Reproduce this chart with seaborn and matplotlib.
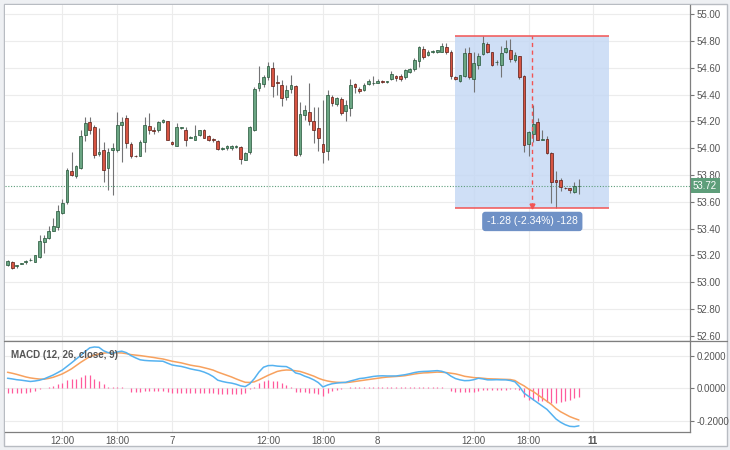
import numpy as np
import pandas as pd
import matplotlib
matplotlib.use("Agg")
import matplotlib.pyplot as plt
import seaborn as sns
from matplotlib.patches import Rectangle
from matplotlib.lines import Line2D

# 30 minute candles
opens = [53.13, 53.15, 53.12, 53.14, 53.15, 53.165, 53.155, 53.19, 53.30, 53.33,
         53.385, 53.41, 53.52, 53.60, 53.83, 53.79, 53.85, 54.10, 54.195, 54.155,
         53.96, 53.985, 53.85, 53.99, 53.99, 54.17, 54.225, 54.03, 53.945, 53.945,
         54.05, 54.165, 54.14, 54.14, 54.195, 54.20, 54.05, 54.02, 54.15, 54.14,
         54.08, 54.065, 54.10, 54.14, 54.095, 54.07, 54.055, 53.995, 54.005, 54.005,
         54.01, 54.01, 53.915, 53.97, 54.14, 54.45, 54.48, 54.53, 54.60, 54.495,
         54.475, 54.38, 54.44, 54.465, 53.96, 54.25, 54.27, 54.20, 54.15, 54.03,
         53.98, 54.385, 54.33, 54.365, 54.28, 54.30, 54.48, 54.445, 54.435, 54.48,
         54.485, 54.49, 54.505, 54.495, 54.52, 54.54, 54.54, 54.53, 54.57, 54.595,
         54.65, 54.74, 54.695, 54.715, 54.715, 54.72, 54.755, 54.72, 54.53, 54.50,
         54.54, 54.71, 54.515, 54.62, 54.705, 54.78, 54.715, 54.64, 54.62, 54.715,
         54.735, 54.655, 54.685, 54.54, 54.03, 54.11, 54.195, 54.065, 54.07, 53.965,
         53.765, 53.765, 53.705, 53.70, 53.675, 53.715]
highs = [53.17, 53.16, 53.13, 53.145, 53.165, 53.18, 53.205, 53.35, 53.35, 53.42,
         53.48, 53.58, 53.62, 53.85, 53.975, 53.875, 54.135, 54.235, 54.235, 54.17,
         54.15, 54.05, 54.00, 54.04, 54.27, 54.235, 54.25, 54.045, 53.95, 54.065,
         54.23, 54.265, 54.16, 54.20, 54.215, 54.205, 54.055, 54.185, 54.16, 54.155,
         54.09, 54.175, 54.14, 54.145, 54.10, 54.08, 54.06, 54.01, 54.025, 54.025,
         54.025, 54.02, 53.97, 54.165, 54.455, 54.615, 54.55, 54.645, 54.64, 54.55,
         54.51, 54.47, 54.55, 54.475, 54.345, 54.32, 54.485, 54.31, 54.305, 54.36,
         54.435, 54.40, 54.385, 54.38, 54.36, 54.515, 54.49, 54.455, 54.49, 54.52,
         54.54, 54.515, 54.51, 54.50, 54.58, 54.55, 54.555, 54.595, 54.60, 54.675,
         54.765, 54.76, 54.73, 54.73, 54.735, 54.785, 54.785, 54.735, 54.54, 54.55,
         54.745, 54.755, 54.72, 54.71, 54.835, 54.795, 54.72, 54.66, 54.76, 54.81,
         54.815, 54.715, 54.69, 54.545, 54.13, 54.32, 54.225, 54.135, 54.09, 53.97,
         53.83, 53.78, 53.71, 53.705, 53.75, 53.77]
lows = [53.12, 53.10, 53.11, 53.135, 53.14, 53.16, 53.15, 53.18, 53.22, 53.32,
        53.38, 53.39, 53.51, 53.585, 53.795, 53.78, 53.845, 54.055, 54.11, 53.925,
        53.94, 53.75, 53.685, 53.655, 53.975, 53.895, 54.00, 53.925, 53.935, 53.94,
        53.975, 54.11, 54.11, 54.12, 54.19, 54.06, 54.025, 54.015, 54.145, 54.015,
        54.075, 54.06, 54.09, 54.075, 54.055, 54.05, 53.985, 53.985, 53.99, 53.99,
        54.00, 53.88, 53.91, 53.96, 54.13, 54.43, 54.46, 54.51, 54.38, 54.40,
        54.315, 54.36, 54.41, 53.94, 53.94, 54.21, 54.175, 54.04, 53.98, 53.89,
        53.91, 54.315, 54.315, 54.25, 54.20, 54.24, 54.41, 54.41, 54.425, 54.475,
        54.475, 54.485, 54.49, 54.49, 54.51, 54.50, 54.50, 54.52, 54.565, 54.58,
        54.61, 54.665, 54.685, 54.71, 54.71, 54.715, 54.705, 54.515, 54.51, 54.495,
        54.535, 54.52, 54.42, 54.59, 54.695, 54.71, 54.615, 54.62, 54.535, 54.71,
        54.645, 54.645, 54.52, 53.975, 53.94, 54.05, 54.06, 54.06, 53.96, 53.595,
        53.555, 53.68, 53.695, 53.665, 53.67, 53.66]
closes = [53.16, 53.11, 53.13, 53.14, 53.16, 53.17, 53.20, 53.31, 53.33, 53.38,
          53.42, 53.53, 53.59, 53.84, 53.80, 53.865, 54.095, 54.185, 54.135, 53.95,
          53.975, 53.84, 53.975, 54.005, 54.175, 54.195, 54.04, 53.94, 53.94, 54.045,
          54.175, 54.135, 54.13, 54.195, 54.21, 54.065, 54.03, 54.155, 54.155, 54.065,
          54.085, 54.09, 54.135, 54.08, 54.06, 54.06, 53.995, 54.00, 54.02, 54.02,
          54.02, 53.92, 53.965, 54.155, 54.445, 54.49, 54.53, 54.615, 54.465, 54.485,
          54.375, 54.435, 54.475, 53.95, 54.255, 54.285, 54.205, 54.135, 54.08, 53.97,
          54.40, 54.34, 54.375, 54.265, 54.32, 54.47, 54.455, 54.43, 54.47, 54.50,
          54.485, 54.505, 54.495, 54.495, 54.555, 54.525, 54.52, 54.585, 54.595, 54.66,
          54.755, 54.68, 54.72, 54.725, 54.735, 54.765, 54.715, 54.54, 54.515, 54.545,
          54.71, 54.53, 54.635, 54.685, 54.785, 54.72, 54.62, 54.64, 54.71, 54.745,
          54.665, 54.695, 54.53, 54.025, 54.125, 54.18, 54.065, 54.07, 53.965, 53.75,
          53.75, 53.71, 53.70, 53.69, 53.715, 53.72]

# MACD (12, 26, close, 9) as drawn
macd_line = [0.062, 0.058, 0.053, 0.05, 0.046, 0.042, 0.045, 0.05, 0.058, 0.07,
             0.082, 0.097, 0.113, 0.135, 0.157, 0.18, 0.202, 0.228, 0.25, 0.255,
             0.253, 0.232, 0.22, 0.216, 0.225, 0.229, 0.22, 0.202, 0.188, 0.176,
             0.172, 0.17, 0.169, 0.168, 0.167, 0.155, 0.144, 0.139, 0.135, 0.128,
             0.12, 0.114, 0.109, 0.1, 0.088, 0.072, 0.05, 0.042, 0.036, 0.032,
             0.025, 0.015, 0.01, 0.028, 0.06, 0.1, 0.13, 0.14, 0.141, 0.137,
             0.135, 0.134, 0.12, 0.095, 0.088, 0.075, 0.065, 0.052, 0.035, 0.008,
             0.02, 0.028, 0.032, 0.035, 0.037, 0.045, 0.052, 0.06, 0.063, 0.068,
             0.073, 0.076, 0.077, 0.076, 0.076, 0.076, 0.08, 0.084, 0.09, 0.097,
             0.102, 0.104, 0.105, 0.107, 0.109, 0.105, 0.095, 0.075, 0.06, 0.052,
             0.047, 0.048, 0.053, 0.062, 0.058, 0.052, 0.052, 0.053, 0.052, 0.052,
             0.048, 0.04, 0.01, -0.03, -0.05, -0.07, -0.09, -0.11, -0.13, -0.16,
             -0.19, -0.21, -0.225, -0.235, -0.237, -0.232]
signal_line = [0.099, 0.093, 0.086, 0.078, 0.07, 0.064, 0.06, 0.057, 0.056, 0.061,
               0.068, 0.078, 0.089, 0.104, 0.12, 0.14, 0.16, 0.178, 0.196, 0.205,
               0.212, 0.217, 0.22, 0.22, 0.219, 0.218, 0.214, 0.208, 0.205, 0.202,
               0.198, 0.194, 0.19, 0.185, 0.181, 0.174, 0.167, 0.162, 0.157, 0.15,
               0.143, 0.138, 0.134, 0.127, 0.12, 0.112, 0.1, 0.09, 0.08, 0.07,
               0.058, 0.047, 0.037, 0.036, 0.04, 0.052, 0.066, 0.08, 0.092, 0.104,
               0.11, 0.113, 0.112, 0.108, 0.104, 0.095, 0.085, 0.075, 0.062, 0.052,
               0.045, 0.04, 0.037, 0.036, 0.035, 0.038, 0.042, 0.046, 0.05, 0.054,
               0.058, 0.062, 0.066, 0.069, 0.071, 0.073, 0.075, 0.078, 0.083, 0.088,
               0.092, 0.095, 0.096, 0.098, 0.1, 0.099, 0.097, 0.093, 0.089, 0.082,
               0.074, 0.07, 0.066, 0.064, 0.062, 0.059, 0.058, 0.057, 0.056, 0.055,
               0.054, 0.048, 0.03, 0.015, -0.005, -0.02, -0.04, -0.06, -0.08, -0.1,
               -0.125, -0.145, -0.16, -0.175, -0.186, -0.196]
macd_hist = [-0.031, -0.031, -0.031, -0.027, -0.027, -0.023, -0.016, -0.002, 0.0, 0.006,
             0.014, 0.025, 0.035, 0.052, 0.056, 0.06, 0.072, 0.082, 0.08, 0.06,
             0.047, 0.025, 0.01, 0.01, 0.008, 0.008, 0.0, -0.023, -0.023, -0.023,
             -0.019, -0.016, -0.016, -0.014, -0.016, -0.023, -0.027, -0.027, -0.027, -0.029,
             -0.029, -0.031, -0.031, -0.031, -0.031, -0.031, -0.033, -0.033, -0.033, -0.033,
             -0.033, -0.033, -0.031, -0.006, 0.01, 0.031, 0.047, 0.052, 0.047, 0.047,
             0.031, 0.021, 0.01, -0.023, -0.023, -0.023, -0.027, -0.031, -0.037, -0.047,
             -0.027, -0.016, -0.01, -0.006, 0.0, 0.006, 0.006, 0.006, 0.006, 0.005,
             0.005, 0.006, 0.005, 0.005, 0.006, 0.006, 0.005, 0.006, 0.007, 0.006,
             0.006, 0.007, 0.006, 0.006, 0.005, 0.005, 0.0, -0.015, -0.02, -0.025,
             -0.025, -0.025, -0.02, -0.015, -0.012, -0.008, -0.012, -0.008, -0.008, -0.008,
             -0.006, -0.006, -0.008, -0.052, -0.07, -0.074, -0.078, -0.08, -0.084, -0.088,
             -0.088, -0.086, -0.08, -0.074, -0.062, -0.054]

time_tick_pos = [12, 24, 36, 57, 69, 81, 102, 114, 128]
time_tick_labels = ["12:00", "18:00", "7", "12:00", "18:00", "8", "12:00", "18:00", "11"]
price_ticks = [52.6, 52.8, 53.0, 53.2, 53.4, 53.6, 53.8, 54.0, 54.2, 54.4, 54.6, 54.8, 55.0]
macd_ticks = [-0.2, 0.0, 0.2]
last_price = 53.72

# price range measuring tool
measure_from, measure_to = 98, 131.6
measure_low, measure_high = 53.555, 54.84
measure_mid = 114.8
measure_label = "-1.28 (-2.34%) -128"

UP, UP_EDGE = "#6ba583", "#225437"
DOWN, DOWN_EDGE = "#d75442", "#5b1a13"
WICK = "#737375"
TEXT = "#555555"
GRID = "#ececec"

sns.set_theme(style="white")
plt.rcParams["font.family"] = ["Liberation Sans", "DejaVu Sans"]

W, H = 730, 450
fig = plt.figure(figsize=(W / 100, H / 100), dpi=100, facecolor="#eef0f3")


def px_box(left, top, right, bottom):
    return [left / W, 1 - bottom / H, (right - left) / W, (bottom - top) / H]


fig.patches.append(Rectangle((4 / W, 1 - 446 / H), 723 / W, 442 / H,
                             transform=fig.transFigure, facecolor="white",
                             edgecolor="#b8bcc2", lw=1, zorder=-5))

ax1 = fig.add_axes(px_box(5, 5, 690, 341))
ax2 = fig.add_axes(px_box(5, 341, 690, 432), sharex=ax1)

df = pd.DataFrame({"o": opens, "h": highs, "l": lows, "c": closes})
df["x"] = np.arange(len(df))
df["bottom"] = df[["o", "c"]].min(axis=1)
df["height"] = (df["c"] - df["o"]).abs().clip(lower=0.004)
up = df["c"] >= df["o"]

# measuring box behind the candles
ax1.add_patch(Rectangle((measure_from, measure_low), measure_to - measure_from,
                        measure_high - measure_low, facecolor="#c3d7f4",
                        alpha=0.8, edgecolor="none", zorder=2))

ax1.vlines(df["x"], df["l"], df["h"], color=WICK, lw=0.8, zorder=3)
ax1.bar(df["x"][up], df["height"][up], bottom=df["bottom"][up], width=0.62,
        color=UP, edgecolor=UP_EDGE, lw=0.5, zorder=4)
ax1.bar(df["x"][~up], df["height"][~up], bottom=df["bottom"][~up], width=0.62,
        color=DOWN, edgecolor=DOWN_EDGE, lw=0.5, zorder=4)

ax1.hlines([measure_low, measure_high], measure_from, measure_to,
           color="#f25454", lw=1.1, zorder=5)
ax1.vlines(measure_mid, measure_low + 0.01, measure_high, color="#f25454",
           lw=1, ls=(0, (3, 2.5)), zorder=5)
ax1.plot(measure_mid, measure_low + 0.012, marker="v", ms=3.5, color="#f25454", zorder=5)
ax1.text(measure_mid, 53.454, measure_label, ha="center", va="center",
         fontsize=7.5, color="white", zorder=6,
         bbox=dict(boxstyle="round,pad=0.45,rounding_size=0.3",
                   fc="#6f91c6", ec="none"))

# last price
ax1.axhline(last_price, color="#5c9d7b", lw=0.8, ls=(0, (1, 1.5)), zorder=3)
ax1.text(1 + 3 / 685, last_price, f"{last_price:.2f}",
         transform=ax1.get_yaxis_transform(), ha="left", va="center",
         fontsize=7, color="white", clip_on=False, zorder=6,
         bbox=dict(boxstyle="square,pad=0.25", fc="#5e9e7a", ec="none"))

# MACD panel
ax2.vlines(df["x"], 0, macd_hist, color="#ff5a9c", lw=0.9, zorder=2)
sns.lineplot(x=df["x"], y=signal_line, ax=ax2, color="#f7a15e", lw=1.1, zorder=3)
sns.lineplot(x=df["x"], y=macd_line, ax=ax2, color="#55b2f0", lw=1.1, zorder=4)
ax2.set_xlabel("")
ax2.set_ylabel("")

ax1.set_xlim(-0.55, 149.3)
ax1.set_ylim(52.562, 55.069)
ax2.set_ylim(-0.270, 0.292)

for ax, yt, fmt in [(ax1, price_ticks, "{:.2f}"), (ax2, macd_ticks, "{:.4f}")]:
    ax.set_facecolor("white")
    ax.yaxis.tick_right()
    ax.set_yticks(yt)
    ax.set_yticklabels([fmt.format(v) for v in yt])
    ax.tick_params(axis="y", right=True, left=False, length=3, width=0.8,
                   color="#777777", labelsize=7, labelcolor=TEXT, pad=2)
    ax.grid(True, color=GRID, lw=0.8)
    ax.set_axisbelow(True)
    for side in ["top", "left"]:
        ax.spines[side].set_visible(False)
    for side in ["right", "bottom"]:
        ax.spines[side].set_color("#7f7f7f")
        ax.spines[side].set_linewidth(0.9)

ax2.set_xticks(time_tick_pos)
ax2.set_xticklabels(time_tick_labels)
ax1.tick_params(axis="x", labelbottom=False, length=0)
ax2.tick_params(axis="x", length=0, labelsize=7, labelcolor=TEXT, pad=3)
ax2.get_xticklabels()[-1].set_fontweight("bold")

fig.add_artist(Line2D([4 / W, 727 / W], [1 - 341 / H, 1 - 341 / H],
                      color="#7f7f7f", lw=0.9))
fig.text(11 / W, 1 - 355 / H, "MACD (12, 26, close, 9)", ha="left", va="center",
         fontsize=7, color=TEXT, fontweight="bold")

fig.savefig("out.png", dpi=100, facecolor=fig.get_facecolor())
